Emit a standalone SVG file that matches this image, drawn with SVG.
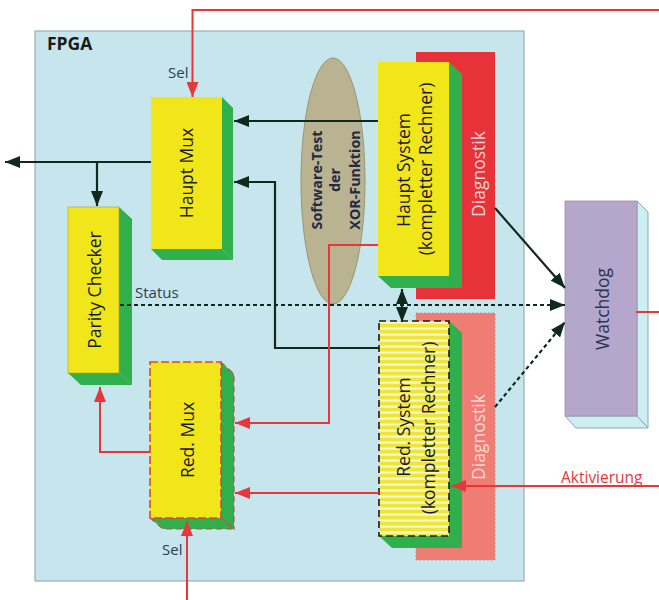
<svg xmlns="http://www.w3.org/2000/svg" width="659" height="600" viewBox="0 0 659 600">
<style>
  .lbl { font-family: "Open Sans", "Liberation Sans", sans-serif; font-size: 17.5px; fill: #1a1a1a; }
  .small { font-family: "Open Sans", "Liberation Sans", sans-serif; font-size: 15px; fill: #2c3e50; }
  .bold { font-family: "Open Sans", "Liberation Sans", sans-serif; font-weight: bold; }
  .front { fill: #f0e61a; }
  .green { fill: #2fb04c; }
  .blk { stroke: #10291d; stroke-width: 2.2; fill: none; }
  .red { stroke: #e8363a; stroke-width: 2; fill: none; }
  .dot { stroke: #10291d; stroke-width: 2.2; fill: none; stroke-dasharray: 4 3; }
</style>
<defs>
  <marker id="ab" markerUnits="userSpaceOnUse" markerWidth="16" markerHeight="12" refX="15" refY="6" orient="auto-start-reverse">
    <path d="M0,0 L15,6 L0,12 z" fill="#10291d"/>
  </marker>
  <marker id="ar" markerUnits="userSpaceOnUse" markerWidth="16" markerHeight="12" refX="15" refY="6" orient="auto">
    <path d="M0,0 L15,6 L0,12 z" fill="#e8363a"/>
  </marker>
  <pattern id="stripes" patternUnits="userSpaceOnUse" width="10" height="6">
    <rect width="10" height="6" fill="#efe535"/>
    <rect y="3.5" width="10" height="2.2" fill="#fbf8cf"/>
  </pattern>
</defs>

<rect width="659" height="600" fill="#ffffff"/>

<g id="fpga">
  <rect x="35" y="31" width="489" height="550" fill="#c7e5ec" stroke="#9aaeb2" stroke-width="1.2"/>
  <text x="47" y="50" class="bold" font-size="17.5" fill="#1a1a1a">FPGA</text>
</g>

<g id="ellipse">
  <ellipse cx="333" cy="181" rx="32" ry="123" fill="#b9b391" stroke="#9a9672" stroke-width="1"/>
  <g class="bold" font-size="14.3" fill="#1f2a44" text-anchor="middle">
    <text transform="translate(316,180) rotate(-90)" dominant-baseline="central">Software-Test</text>
    <text transform="translate(334,180) rotate(-90)" dominant-baseline="central">der</text>
    <text transform="translate(354,180) rotate(-90)" dominant-baseline="central">XOR-Funktion</text>
  </g>
</g>

<g id="diag-haupt">
  <rect x="416" y="52" width="79" height="247" fill="#e8323a"/>
  <text class="lbl" transform="translate(478,174) rotate(-90)" text-anchor="middle" dominant-baseline="central" style="fill:#fbd3d3">Diagnostik</text>
</g>

<g id="diag-red">
  <rect x="416" y="313" width="79" height="247" fill="#f07d74" stroke="#b09a9a" stroke-width="1" stroke-dasharray="2 2"/>
  <text class="lbl" transform="translate(478,437) rotate(-90)" text-anchor="middle" dominant-baseline="central" style="fill:#fbd9d5">Diagnostik</text>
</g>

<g id="haupt-mux">
  <polygon class="green" points="222,97 233,108 233,260 222,249"/>
  <polygon class="green" points="151,249 222,249 233,260 162,260"/>
  <rect class="front" x="151" y="97" width="71" height="152"/>
  <text class="lbl" transform="translate(186,173) rotate(-90)" text-anchor="middle" dominant-baseline="central">Haupt Mux</text>
</g>

<g id="parity-checker">
  <polygon class="green" points="119,207 132,219 132,385 119,373"/>
  <polygon class="green" points="68,373 119,373 132,385 81,385"/>
  <rect class="front" x="68" y="207" width="51" height="166" stroke="#a8a030" stroke-width="0.6"/>
  <text class="lbl" transform="translate(94,290) rotate(-90)" text-anchor="middle" dominant-baseline="central">Parity Checker</text>
</g>

<g id="haupt-system">
  <polygon class="green" points="449,62 462,74 462,288 449,276"/>
  <polygon class="green" points="378,276 449,276 462,288 391,288"/>
  <rect class="front" x="378" y="62" width="71" height="214"/>
  <text class="lbl" transform="translate(403,170) rotate(-90)" text-anchor="middle" dominant-baseline="central">Haupt System</text>
  <text class="lbl" transform="translate(425,169) rotate(-90)" text-anchor="middle" dominant-baseline="central">(kompletter Rechner)</text>
</g>

<g id="red-system">
  <polygon class="green" points="449,321 462,333 462,548 449,536"/>
  <polygon class="green" points="379,536 449,536 462,548 392,548"/>
  <rect x="379" y="321" width="70" height="215" fill="url(#stripes)" stroke="#1a1a1a" stroke-width="1.6" stroke-dasharray="7 4"/>
  <text class="lbl" transform="translate(403,427) rotate(-90)" text-anchor="middle" dominant-baseline="central">Red. System</text>
  <text class="lbl" transform="translate(428,428) rotate(-90)" text-anchor="middle" dominant-baseline="central">(kompletter Rechner)</text>
</g>

<g id="red-mux">
  <polygon class="green" points="221,362 234,374 234,529 221,518" stroke="#c0504a" stroke-width="1.2" stroke-dasharray="6 4"/>
  <polygon class="green" points="150,518 221,518 234,529 163,529" stroke="#c0504a" stroke-width="1.2" stroke-dasharray="6 4"/>
  <rect class="front" x="150" y="362" width="71" height="156" stroke="#d84a3a" stroke-width="1.6" stroke-dasharray="8 3"/>
  <text class="lbl" transform="translate(187,440) rotate(-90)" text-anchor="middle" dominant-baseline="central">Red. Mux</text>
</g>

<g id="watchdog">
  <polygon points="637,201 648,212 648,428 637,416" fill="#cdeef2" stroke="#8fa8ac" stroke-width="1"/>
  <polygon points="565,416 637,416 648,428 576,428" fill="#cdeef2" stroke="#8fa8ac" stroke-width="1"/>
  <rect x="565" y="201" width="72" height="215" fill="#b4a7cb" stroke="#9a90b0" stroke-width="0.8"/>
  <text class="lbl" transform="translate(602,309) rotate(-90)" text-anchor="middle" dominant-baseline="central" style="fill:#2a3450">Watchdog</text>
</g>

<g id="connectors">
  <polyline class="red" points="659,10 192.5,10 192.5,97" marker-end="url(#ar)"/>
  <text class="small" x="168" y="78">Sel</text>
  <line class="blk" x1="151" y1="162" x2="5" y2="162" marker-end="url(#ab)"/>
  <line class="blk" x1="97" y1="162" x2="97" y2="206" marker-end="url(#ab)"/>
  <line class="blk" x1="378" y1="121" x2="234" y2="121" marker-end="url(#ab)"/>
  <polyline class="blk" points="379,348 275,348 275,182 234,182" marker-end="url(#ab)"/>
  <polyline class="red" points="378,245 329,245 329,423 235,423" marker-end="url(#ar)"/>
  <line class="red" x1="379" y1="493" x2="235" y2="493" marker-end="url(#ar)"/>
  <polyline class="red" points="150,452 100,452 100,387" marker-end="url(#ar)"/>
  <line class="red" x1="187" y1="600" x2="187" y2="521" marker-end="url(#ar)"/>
  <text class="small" x="162" y="555">Sel</text>
  <line class="dot" x1="120" y1="305" x2="565" y2="305" marker-end="url(#ab)"/>
  <text class="small" x="135" y="298">Status</text>
  <line class="blk" x1="402" y1="289" x2="402" y2="322" marker-start="url(#ab)" marker-end="url(#ab)"/>
  <line class="blk" x1="495" y1="208" x2="565" y2="288" marker-end="url(#ab)"/>
  <line class="dot" x1="495" y1="407" x2="565" y2="322" marker-end="url(#ab)"/>
  <line class="red" x1="636" y1="312" x2="659" y2="312"/>
  <line class="red" x1="659" y1="486" x2="451" y2="486" marker-end="url(#ar)"/>
  <text x="561" y="483" font-family="Open Sans, Liberation Sans, sans-serif" font-size="15.5" fill="#e8363a">Aktivierung</text>
</g>
</svg>
